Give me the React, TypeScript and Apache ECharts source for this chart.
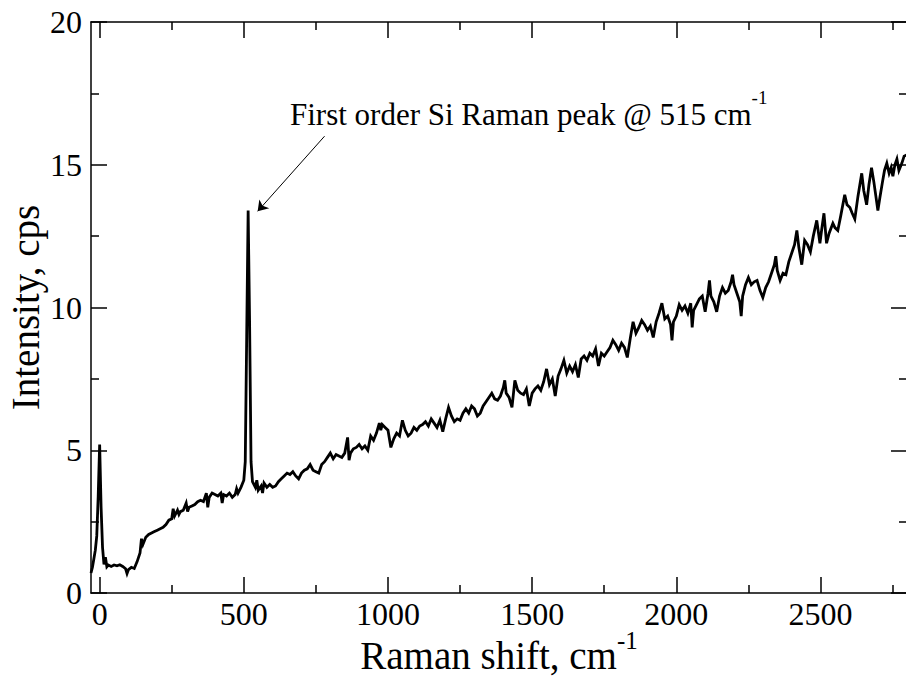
import React, { useEffect, useRef } from "react";
import * as echarts from "echarts";

// Raman shift (cm^-1)
const ramanShift = [
  -30, -25, -20, -15, -10, -5, 0, 5, 10, 15,
  20, 25, 30, 40, 50, 60, 70, 80, 90, 95,
  100, 110, 120, 130, 140, 145, 150, 160, 170, 180,
  190, 200, 210, 220, 230, 240, 250, 255, 260, 270,
  275, 280, 290, 300, 305, 310, 320, 330, 340, 350,
  360, 370, 375, 380, 390, 400, 410, 420, 425, 430,
  440, 450, 460, 470, 475, 480, 490, 500, 505, 510,
  515, 520, 525, 530, 540, 545, 550, 560, 565, 570,
  580, 590, 600, 610, 620, 630, 640, 650, 660, 670,
  680, 690, 700, 710, 720, 730, 740, 750, 760, 770,
  780, 790, 800, 810, 820, 830, 840, 850, 860, 865,
  870, 880, 890, 900, 910, 920, 930, 940, 950, 960,
  970, 975, 980, 990, 1000, 1010, 1020, 1030, 1040, 1050,
  1060, 1070, 1080, 1090, 1100, 1110, 1120, 1130, 1140, 1150,
  1160, 1170, 1180, 1190, 1200, 1210, 1220, 1230, 1240, 1250,
  1260, 1270, 1280, 1290, 1300, 1310, 1320, 1330, 1340, 1350,
  1360, 1370, 1380, 1390, 1400, 1405, 1410, 1420, 1430, 1440,
  1450, 1460, 1470, 1480, 1490, 1500, 1510, 1520, 1530, 1540,
  1550, 1560, 1570, 1580, 1590, 1600, 1610, 1620, 1630, 1640,
  1650, 1660, 1670, 1680, 1690, 1700, 1710, 1720, 1730, 1740,
  1750, 1760, 1770, 1780, 1790, 1800, 1810, 1820, 1830, 1840,
  1850, 1860, 1870, 1880, 1890, 1900, 1910, 1920, 1930, 1940,
  1950, 1960, 1970, 1980, 1985, 1990, 2000, 2010, 2020, 2030,
  2040, 2050, 2055, 2060, 2070, 2080, 2090, 2100, 2110, 2115,
  2120, 2130, 2140, 2150, 2160, 2170, 2180, 2190, 2195, 2200,
  2210, 2220, 2225, 2230, 2240, 2250, 2260, 2270, 2280, 2290,
  2300, 2310, 2320, 2330, 2340, 2345, 2350, 2360, 2370, 2380,
  2390, 2400, 2410, 2418, 2425, 2435, 2445, 2455, 2465, 2475,
  2487, 2498, 2505, 2512, 2521, 2530, 2543, 2550, 2560, 2570,
  2584, 2592, 2602, 2610, 2619, 2630, 2643, 2650, 2660, 2668,
  2677, 2685, 2692, 2699, 2706, 2715, 2722, 2730, 2738, 2745,
  2751, 2758, 2765, 2772, 2782, 2790, 2800,
];

// Intensity (cps)
const intensity = [
  0.7, 0.9, 1.2, 1.5, 2.0, 3.4, 5.2, 3.0, 1.6, 1.0,
  1.25, 0.92, 0.98, 0.93, 0.98, 0.95, 0.99, 0.93, 0.85, 0.68,
  0.82, 0.9, 0.86, 1.1, 1.4, 1.9, 1.7, 1.95, 2.05, 2.1,
  2.15, 2.2, 2.25, 2.3, 2.4, 2.55, 2.6, 2.95, 2.7, 2.9,
  2.75, 2.85, 2.9, 3.15, 2.85, 3.0, 3.05, 3.1, 3.2, 3.25,
  3.2, 3.5, 3.0, 3.35, 3.5, 3.45, 3.4, 3.5, 3.15, 3.45,
  3.4, 3.5, 3.35, 3.45, 3.65, 3.5, 3.7, 3.95, 4.6, 9.0,
  13.4, 9.5, 4.6, 3.9, 3.7, 3.95, 3.6, 3.75, 3.5, 3.85,
  3.7, 3.8, 3.7, 3.75, 3.9, 4.0, 4.1, 4.2, 4.15, 4.25,
  4.1, 4.0, 4.2, 4.3, 4.35, 4.5, 4.3, 4.25, 4.2, 4.5,
  4.6, 4.75, 4.9, 4.7, 4.85, 4.8, 4.75, 4.9, 5.45, 4.65,
  4.9, 5.05, 5.1, 5.2, 5.05, 5.15, 5.0, 5.5, 5.35, 5.6,
  5.95, 5.7, 5.9, 5.8, 5.7, 5.1, 5.4, 5.6, 5.5, 6.05,
  5.7, 5.5, 5.6, 5.8, 5.7, 5.85, 5.9, 6.0, 5.85, 6.1,
  5.95, 5.8, 6.05, 5.65, 6.1, 6.5, 6.2, 6.0, 6.1, 6.05,
  6.3, 6.45, 6.3, 6.55, 6.45, 6.2, 6.3, 6.55, 6.7, 6.85,
  7.0, 6.8, 6.75, 6.9, 7.2, 7.45, 7.0, 6.85, 6.5, 7.45,
  7.1, 7.0, 6.95, 7.15, 6.55, 7.0, 7.15, 7.25, 7.1, 7.4,
  7.85, 7.3, 7.5, 6.9, 7.6, 7.85, 8.15, 7.7, 7.95, 7.75,
  8.0, 7.55, 8.2, 8.3, 8.15, 8.4, 8.3, 8.55, 7.95, 8.4,
  8.3, 8.45, 8.6, 8.85, 8.7, 8.5, 8.75, 8.6, 8.25, 8.9,
  9.5, 9.1, 9.3, 9.55, 9.4, 9.2, 9.35, 8.95, 9.5, 9.8,
  10.15, 9.6, 9.7, 9.4, 8.85, 9.5, 9.7, 10.1, 9.9, 10.05,
  9.8, 10.15, 9.3, 9.9, 10.1, 10.3, 10.4, 9.85, 10.5, 10.95,
  10.4, 10.2, 9.85, 10.4, 10.7, 10.5, 10.6, 10.9, 11.15, 10.8,
  10.5, 10.2, 9.7, 10.4, 10.8, 11.05, 10.8, 10.9, 10.95, 10.6,
  10.35, 10.7, 10.9, 11.2, 11.5, 11.8, 11.3, 10.95, 11.2, 11.15,
  11.6, 11.9, 12.2, 12.7, 12.1, 11.5, 12.35, 12.2, 11.95, 12.5,
  13.05, 12.25, 12.8, 13.3, 12.25, 12.6, 12.95, 12.8, 12.7, 13.2,
  13.95, 13.6, 13.5, 13.3, 13.1, 13.9, 14.7, 14.1, 13.6, 14.3,
  14.9, 14.4, 13.9, 13.4, 13.85, 14.4, 14.8, 15.05, 14.7, 14.9,
  14.6, 15.0, 15.2, 14.8, 15.05, 15.3, 15.35,
];

const xMajorTicks = [0, 500, 1000, 1500, 2000, 2500];
const xMinorTicks = [250, 750, 1250, 1750, 2250, 2750];
const xRange = [-30, 2800];
const yRange = [0, 20];

const arrowFrom = [780, 16.0];
const arrowTo = [548, 13.37];

const FONT = "'Liberation Serif', 'Times New Roman', Times, serif";

export default function App() {
  const ref = useRef<HTMLDivElement>(null);

  useEffect(() => {
    if (!ref.current) return;
    const chart = echarts.init(ref.current, null, { renderer: "svg" });
    const data = ramanShift.map((x, i) => [x, intensity[i]]);
    const axisLine = { color: "#000", width: 1.5 };
    const plain = (v: number) => String(v);

    const xAxisBase = (position: string, ticks: number[], len: number, showLine: boolean) => ({
      type: "value",
      position,
      min: xRange[0],
      max: xRange[1],
      axisLine: { show: showLine, onZero: false, lineStyle: axisLine },
      axisTick: { show: true, inside: true, length: len, customValues: ticks, lineStyle: axisLine },
      axisLabel: { show: false },
      splitLine: { show: false },
    });

    const bottomMajor: any = xAxisBase("bottom", xMajorTicks, 16, true);
    bottomMajor.axisLabel = {
      show: true,
      customValues: xMajorTicks,
      formatter: plain,
      margin: 5,
      fontSize: 32,
      fontFamily: FONT,
      color: "#000",
    };
    bottomMajor.name = "Raman shift, cm{sup|-1}";
    bottomMajor.nameLocation = "middle";
    bottomMajor.nameMoveOverlap = false;
    bottomMajor.nameGap = 35;
    bottomMajor.nameTextStyle = {
      fontSize: 39,
      fontFamily: FONT,
      color: "#000",
      lineHeight: 54,
      rich: {
        sup: { fontSize: 25, fontFamily: FONT, color: "#000", lineHeight: 25, verticalAlign: "top" },
      },
    };

    const yAxisBase = (position: string, showLabels: boolean) => ({
      type: "value",
      position,
      min: yRange[0],
      max: yRange[1],
      interval: 5,
      axisLine: { show: true, onZero: false, lineStyle: axisLine },
      axisTick: { show: true, inside: true, length: 16, lineStyle: axisLine },
      minorTick: { show: true, splitNumber: 2, length: 8, lineStyle: axisLine },
      axisLabel: { show: showLabels, formatter: plain, margin: 9, fontSize: 32, fontFamily: FONT, color: "#000" },
      splitLine: { show: false },
      minorSplitLine: { show: false },
    });

    const leftY: any = yAxisBase("left", true);
    leftY.name = "Intensity, cps";
    leftY.nameLocation = "middle";
    leftY.nameMoveOverlap = false;
    leftY.nameRotate = 90;
    leftY.nameGap = 46;
    leftY.nameTextStyle = { fontSize: 39, fontFamily: FONT, color: "#000" };

    chart.setOption({
      animation: false,
      backgroundColor: "#fff",
      grid: { left: 91, right: -1, top: 22, bottom: 84, containLabel: false, outerBoundsMode: "none" },
      xAxis: [
        bottomMajor,
        xAxisBase("bottom", xMinorTicks, 8, false),
        xAxisBase("top", xMajorTicks, 16, true),
        xAxisBase("top", xMinorTicks, 8, false),
      ],
      yAxis: [leftY, yAxisBase("right", false)],
      series: [
        {
          type: "line",
          xAxisIndex: 0,
          yAxisIndex: 0,
          data,
          showSymbol: false,
          symbol: "none",
          lineStyle: { color: "#000", width: 2.8, join: "miter" },
          markLine: {
            silent: true,
            symbol: ["none", "arrow"],
            symbolSize: 10,
            label: { show: false },
            lineStyle: { color: "#000", width: 1, type: "solid" },
            emphasis: { disabled: true },
            data: [[{ coord: arrowFrom }, { coord: arrowTo }]],
          },
        },
      ],
      graphic: [
        {
          type: "text",
          x: 290,
          y: 114,
          style: {
            text: "First order Si Raman peak @ 515 cm{sup|-1}",
            fontSize: 31,
            fontFamily: FONT,
            fill: "#000",
            lineHeight: 52,
            verticalAlign: "middle",
            align: "left",
            rich: {
              sup: { fontSize: 19, fontFamily: FONT, fill: "#000", lineHeight: 19, verticalAlign: "top" },
            },
          },
        },
      ],
    });

    return () => chart.dispose();
  }, []);

  return (
    <div
      ref={ref}
      style={{ position: "absolute", left: 0, top: 0, width: 906, height: 677, background: "#fff" }}
    />
  );
}
